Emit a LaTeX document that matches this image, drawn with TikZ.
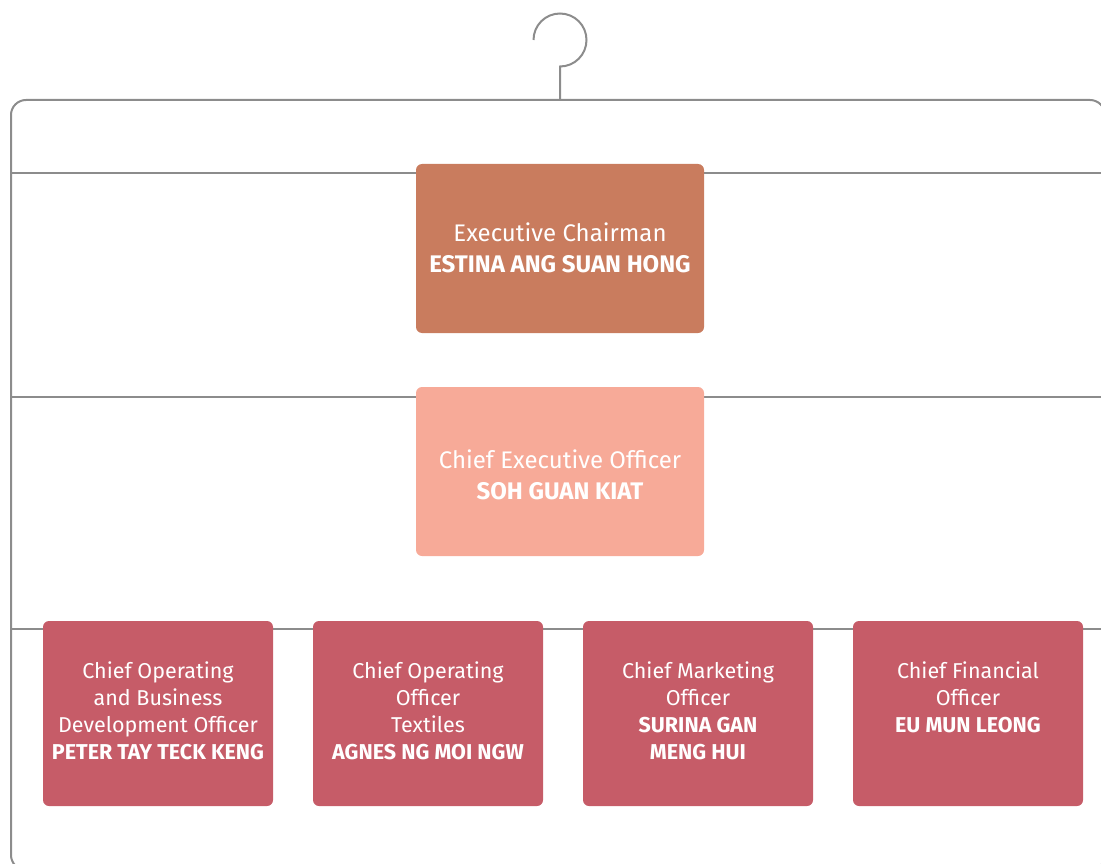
\documentclass[tikz,border=0pt]{standalone}
\usepackage{fontspec}
\setmainfont{Fira Sans}
\definecolor{rail}{HTML}{8C8C8C}
\definecolor{chaircol}{HTML}{C97C5E}
\definecolor{ceocol}{HTML}{F7AA98}
\definecolor{offcol}{HTML}{C65C68}
\tikzset{
  rail/.style={draw=rail, line width=2pt},
  topbox/.style={rounded corners=6pt, minimum width=288pt, minimum height=169pt, inner sep=0pt},
  toptext/.style={anchor=north, text=white, align=center, inner sep=0pt, font=\fontsize{24}{31}\selectfont},
  offbox/.style={rounded corners=6pt, fill=offcol, minimum width=230pt, minimum height=185pt, inner sep=0pt},
  offtext/.style={anchor=north, text=white, align=center, inner sep=0pt, font=\fontsize{21.5}{27}\selectfont}
}
\begin{document}
\begin{tikzpicture}[x=1pt,y=-1pt]
\useasboundingbox (0,0) rectangle (1101,864);
\clip (0,0) rectangle (1101,864);
% hanger frame
\draw[rail, rounded corners=15pt] (11,100) rectangle (1105,870);
\draw[rail] (560,100) -- (560,66.5) arc[start angle=90, end angle=-180, radius=26.5];
% rails
\coordinate (r1l) at (11,173); \coordinate (r1r) at (1105,173);
\coordinate (r2l) at (11,397); \coordinate (r2r) at (1105,397);
\coordinate (r3l) at (11,629); \coordinate (r3r) at (1105,629);
\draw[rail] (r1l) -- (r1r);
\draw[rail] (r2l) -- (r2r);
\draw[rail] (r3l) -- (r3r);
% top boxes
\node[topbox, fill=chaircol] (chair) at (560,248.5) {};
\node[topbox, fill=ceocol] (ceo) at (560,471.5) {};
\node[toptext] (chairt) at ([yshift=-55.5pt]chair.north) {\strut Executive Chairman\\\strut\bfseries ESTINA ANG SUAN HONG};
\node[toptext] (ceot) at ([yshift=-59.5pt]ceo.north) {\strut Chief Executive Officer\\\strut\bfseries SOH GUAN KIAT};
% officer boxes
\node[offbox] (b1) at (158,713.5) {};
\node[offbox] (b2) at (428,713.5) {};
\node[offbox] (b3) at (698,713.5) {};
\node[offbox] (b4) at (968,713.5) {};
\node[offtext] (t1) at ([yshift=-38.5pt]b1.north) {\strut Chief Operating\\\strut and Business\\\strut Development Officer\\\strut\bfseries PETER TAY TECK KENG};
\node[offtext] (t2) at ([yshift=-38.5pt]b2.north) {\strut Chief Operating\\\strut Officer\\\strut Textiles\\\strut\bfseries AGNES NG MOI NGW};
\node[offtext] (t3) at ([yshift=-38.5pt]b3.north) {\strut Chief Marketing\\\strut Officer\\\strut\bfseries SURINA GAN\\\strut\bfseries MENG HUI};
\node[offtext] (t4) at ([yshift=-38.5pt]b4.north) {\strut Chief Financial\\\strut Officer\\\strut\bfseries EU MUN LEONG};
\end{tikzpicture}
\end{document}
